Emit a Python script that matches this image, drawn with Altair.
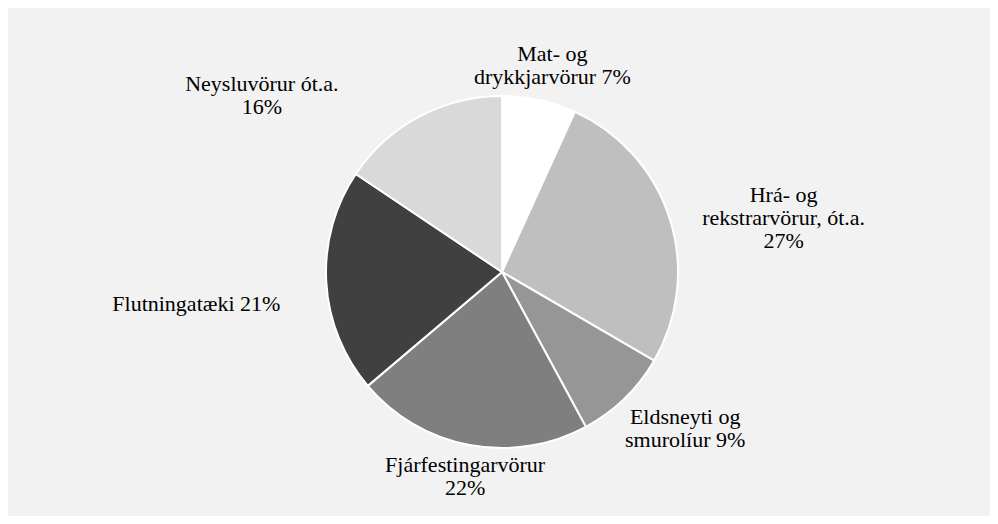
import math
import altair as alt
import pandas as pd

categories = [
    "Mat- og drykkjarvörur",
    "Hrá- og rekstrarvörur, ót.a.",
    "Eldsneyti og smurolíur",
    "Fjárfestingarvörur",
    "Flutningatæki",
    "Neysluvörur ót.a.",
]
shares = [6.8, 26.6, 8.7, 21.7, 20.6, 15.6]
label_pct = [7, 27, 9, 22, 21, 16]
label_templates = [
    "Mat- og\ndrykkjarvörur {p}%",
    "Hrá- og\nrekstrarvörur, ót.a.\n{p}%",
    "Eldsneyti og\nsmurolíur {p}%",
    "Fjárfestingarvörur\n{p}%",
    "Flutningatæki {p}%",
    "Neysluvörur ót.a.\n{p}%",
]
colors = ["#ffffff", "#bfbfbf", "#969696", "#7f7f7f", "#404040", "#d9d9d9"]

labels = [t.format(p=p) for t, p in zip(label_templates, label_pct)]
df = pd.DataFrame({
    "idx": list(range(len(categories))),
    "category": categories,
    "share": shares,
    "label": labels,
})
total = float(sum(shares))
theta_scale = alt.Scale(domain=[0, total], range=[0, 2 * math.pi])

FONT = "Liberation Serif"
FONT_SIZE = 22
LINE_H = 23

base = alt.Chart(df)

pie = base.mark_arc(radius=176, stroke="white", strokeWidth=2).encode(
    theta=alt.Theta("share:Q", stack=True, scale=theta_scale),
    color=alt.Color("category:N", scale=alt.Scale(domain=categories, range=colors), legend=None),
    order=alt.Order("idx:Q"),
)

# label nudges (style offsets relative to the slice mid-angle anchor)
nudges = [(8, -11), (91, 7), (44, 13), (0, 8), (-106, 21), (-146, 0)]
layers = [pie]
for i, (dx, dy) in enumerate(nudges):
    n_lines = labels[i].count("\n") + 1
    layers.append(
        base.transform_window(cum="sum(share)", sort=[alt.SortField("idx")])
        .transform_calculate(mid="datum.cum - datum.share / 2")
        .transform_filter(alt.datum.idx == i)
        .mark_text(
            radius=200, dx=dx, dy=dy - (n_lines - 1) * LINE_H / 2,
            font=FONT, fontSize=FONT_SIZE, lineHeight=LINE_H, lineBreak="\n",
            align="center", baseline="middle", color="black",
        )
        .encode(theta=alt.Theta("mid:Q", scale=theta_scale), text="label:N")
    )

chart = alt.layer(*layers).properties(
    width=976,
    height=472,
    padding={"left": 6, "top": 28, "right": 0, "bottom": 8},
    background="#f2f2f2",
).configure_view(strokeWidth=0)

chart.save("out.html", embed_options={"renderer": "svg", "actions": False})
